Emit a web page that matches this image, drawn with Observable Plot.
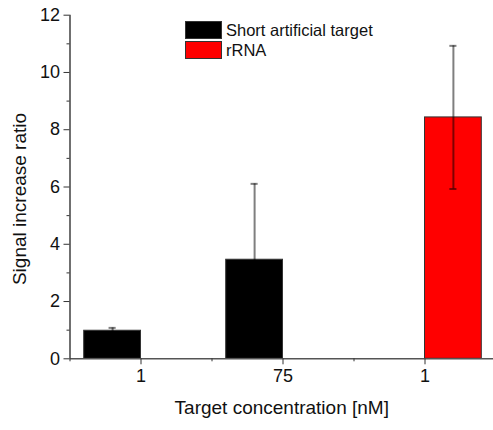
<!DOCTYPE html>
<html><head><meta charset="utf-8">
<script src="https://cdn.jsdelivr.net/npm/d3@7"></script>
<script src="https://cdn.jsdelivr.net/npm/@observablehq/plot@0.6"></script>
<style>
body{margin:0;background:#fff;font-family:"Liberation Sans",Arial,sans-serif;}
#wrap{position:relative;width:493px;height:430px;}
.legend{position:absolute;left:185px;top:20px;font-size:16.5px;color:#111;line-height:1;}
.row{display:flex;align-items:center;height:20px;}
.sw{width:37px;height:18px;box-sizing:border-box;border:1px solid #333;margin-right:4px;}
</style></head><body><div id="wrap"></div>
<script>
const categories = ["1", "75", "1"];
const seriesOf = ["Short artificial target", "Short artificial target", "rRNA"];
const values = [0.98, 3.46, 8.43];
const errors = [0.10, 2.65, 2.50];
const seriesNames = ["Short artificial target", "rRNA"];
const seriesColors = ["#000000", "#ff0000"];
const yTicks = [0, 2, 4, 6, 8, 10, 12];
const yMinor = [1, 3, 5, 7, 9, 11];
const xTitle = "Target concentration [nM]";
const yTitle = "Signal increase ratio";

const barW = 0.8;
const data = categories.map((c, i) => {
  const s = seriesNames.indexOf(seriesOf[i]);
  const center = 2 * i + 1;
  const x1 = s === 0 ? center - barW : center;
  return {cat: c, series: seriesOf[i], value: values[i], err: errors[i], x1, x2: x1 + barW, xm: x1 + barW / 2};
});
const majorX = categories.map((c, i) => 2 * i + 1);
const minorX = d3.range(0, 2 * categories.length + 1, 2);

const plot = Plot.plot({
  width: 493, height: 430,
  marginLeft: 69.5, marginRight: 0, marginTop: 14.7, marginBottom: 71.7,
  style: {fontFamily: "'Liberation Sans', Arial, sans-serif", fontSize: "18px", color: "#111", background: "white"},
  x: {domain: [0, 6], range: [69.5, 495.5]},
  y: {domain: [0, 12]},
  color: {domain: seriesNames, range: seriesColors},
  marks: [
    Plot.rectY(data, {x1: "x1", x2: "x2", y1: 0, y2: "value", fill: "series", stroke: "#333", strokeWidth: 1}),
    Plot.ruleX(data, {x: "xm", y1: d => d.value - d.err, y2: d => d.value + d.err, stroke: "#000", strokeOpacity: 0.5, strokeWidth: 2}),
    Plot.ruleY(data, {y: d => d.value + d.err, x1: d => d.xm - 0.05, x2: d => d.xm + 0.05, stroke: "#000", strokeOpacity: 0.5, strokeWidth: 2}),
    Plot.ruleY(data, {y: d => d.value - d.err, x1: d => d.xm - 0.05, x2: d => d.xm + 0.05, stroke: "#000", strokeOpacity: 0.5, strokeWidth: 2}),
    Plot.ruleY([0], {stroke: "#555", strokeWidth: 1.4}),
    Plot.ruleX([0], {stroke: "#333", strokeWidth: 1.4}),
    Plot.axisY(yTicks, {tickSize: 6, tickPadding: 4, fontSize: 18, label: null, stroke: "#333"}),
    Plot.axisY(yMinor, {tickSize: 3, fill: "none", label: null, stroke: "#333"}),
    Plot.axisX(majorX, {tickSize: 6, tickPadding: 4, fontSize: 18, label: null, stroke: "#333", tickFormat: d => categories[(d - 1) / 2]}),
    Plot.axisX(minorX, {tickSize: 3, fill: "none", label: null, stroke: "#333"}),
    Plot.text([xTitle], {frameAnchor: "bottom", textAnchor: "middle", dy: 55, fontSize: 19, fill: "#111"}),
    Plot.text([yTitle], {frameAnchor: "left", textAnchor: "middle", rotate: -90, dx: -50, dy: 12, fontSize: 19, fill: "#111"})
  ]
});
const wrap = document.getElementById("wrap");
wrap.appendChild(plot);
const leg = document.createElement("div");
leg.className = "legend";
seriesNames.forEach((n, i) => {
  const r = document.createElement("div"); r.className = "row";
  const sw = document.createElement("div"); sw.className = "sw"; sw.style.background = seriesColors[i];
  const t = document.createElement("span"); t.textContent = n;
  r.appendChild(sw); r.appendChild(t); leg.appendChild(r);
});
wrap.appendChild(leg);
</script></body></html>
